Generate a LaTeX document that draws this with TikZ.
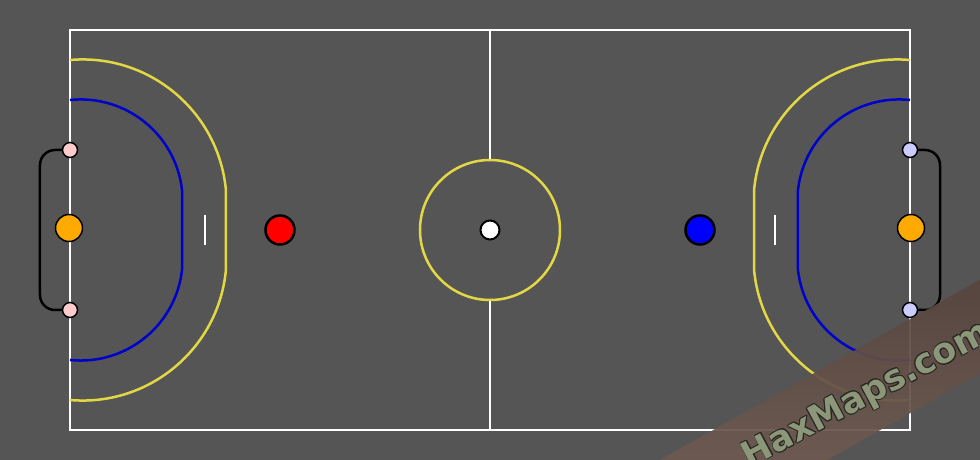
\documentclass[tikz,border=0pt]{standalone}
\usepackage{fontspec}
\usepackage{contour}
\newfontfamily\markfont{DejaVu Sans}
\contourlength{0.8pt}

\definecolor{pitchgrey}{RGB}{85,85,85}
\definecolor{areayellow}{RGB}{226,216,70}
\definecolor{areablue}{RGB}{0,0,204}
\definecolor{keeperorange}{RGB}{255,170,0}
\definecolor{redpost}{RGB}{255,204,204}
\definecolor{bluepost}{RGB}{204,204,255}
\definecolor{marktext}{RGB}{140,150,120}
\definecolor{markline}{RGB}{40,40,36}
\definecolor{bandtop}{RGB}{84,66,60}
\definecolor{bandbottom}{RGB}{122,102,92}

\begin{document}
\begin{tikzpicture}[x=1pt,y=1pt,
  field line/.style={draw=white,line width=2pt},
  box line/.style={draw=areayellow,line width=2.5pt},
  keeper line/.style={draw=areablue,line width=2.5pt},
  net line/.style={draw=black,line width=2.5pt,rounded corners=15pt},
  disc/.style={circle,draw=black,inner sep=0pt,minimum size=#1},
  player node/.style={disc=29pt,line width=2.5pt},
  keeper node/.style={disc=27pt,line width=1.5pt,fill=keeperorange},
  post node/.style={disc=15pt,line width=1.5pt}]

 \fill[pitchgrey,use as bounding box] (-490,-230) rectangle (490,230);

 % pitch
 \draw[field line] (-420,-200) rectangle (420,200);
 \node[circle,draw=areayellow,line width=2.5pt,inner sep=0pt,minimum size=140pt] (kickoff) at (0,0) {};
 \coordinate (midtop) at (0,200);
 \coordinate (midbottom) at (0,-200);
 \draw[field line] (kickoff.north) -- (midtop);
 \draw[field line] (kickoff.south) -- (midbottom);

 % areas
 \draw[box line] (-420,170) arc[start angle=95,end angle=5,radius=144] -- ++(0,-78.2)
    arc[start angle=-5,end angle=-95,radius=144];
 \draw[keeper line] (-420,130) arc[start angle=96,end angle=6,radius=102] -- ++(0,-78.4)
    arc[start angle=-6,end angle=-96,radius=102];
 \draw[box line] (420,170) arc[start angle=85,end angle=175,radius=144] -- ++(0,-78.2)
    arc[start angle=185,end angle=275,radius=144];
 \draw[keeper line] (420,130) arc[start angle=84,end angle=174,radius=102] -- ++(0,-78.4)
    arc[start angle=186,end angle=276,radius=102];

 % marks
 \draw[field line] (-285,15) -- (-285,-15);
 \draw[field line] (285,15) -- (285,-15);

 % goals
 \coordinate (lpostT) at (-420,80);
 \coordinate (lpostB) at (-420,-80);
 \coordinate (rpostT) at (420,80);
 \coordinate (rpostB) at (420,-80);
 \coordinate (lnet) at (-450,0);
 \coordinate (rnet) at (450,0);
 \draw[net line] (lpostT) -| (lnet) |- (lpostB);
 \draw[net line] (rpostT) -| (rnet) |- (rpostB);
 \node[post node,fill=redpost] (lpost1) at (lpostT) {};
 \node[post node,fill=redpost] (lpost2) at (lpostB) {};
 \node[post node,fill=bluepost] (rpost1) at (rpostT) {};
 \node[post node,fill=bluepost] (rpost2) at (rpostB) {};

 % discs
 \node[keeper node] (lkeeper) at (-421,2) {};
 \node[keeper node] (rkeeper) at (421,2) {};
 \node[player node,fill=red] (redplayer) at (-210,0) {};
 \node[player node,fill=blue] (blueplayer) at (210,0) {};
 \node[disc=19pt,line width=2pt,fill=white] (ball) at (0,0) {};

 % watermark
 \begin{scope}
  \clip (-490,-230) rectangle (490,230);
  \begin{scope}[shift={(170,-230)},rotate=29.4]
   \shade[top color=bandtop,bottom color=bandbottom,opacity=0.93] (-60,-82) rectangle (420,0);
  \end{scope}
  \node[rotate=28,text=marktext,font=\markfont\bfseries\fontsize{35}{35}\selectfont] (haxmark)
    at (377,-166) {\contour{markline}{HaxMaps.com}};
 \end{scope}

\end{tikzpicture}
\end{document}
